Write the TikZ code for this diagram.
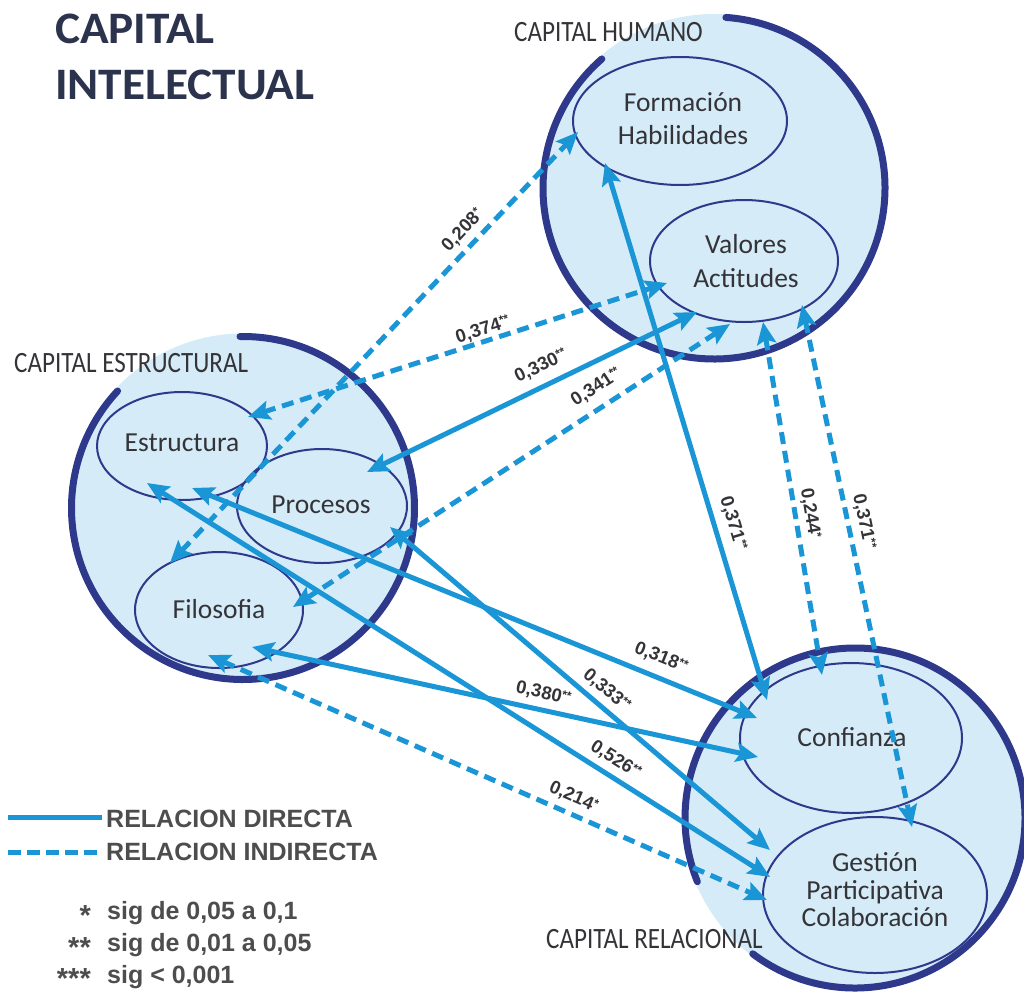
\documentclass[tikz,border=0pt]{standalone}
\usepackage{fontspec}
\usepackage{graphicx}
\setmainfont{Carlito}
\newfontfamily\arialfont{Liberation Sans}
\usetikzlibrary{arrows.meta,shapes.geometric}

\definecolor{linkblue}{RGB}{26,150,214}
\definecolor{capfill}{RGB}{213,235,247}
\definecolor{navy}{RGB}{46,57,140}
\definecolor{inktext}{RGB}{52,52,56}
\definecolor{titleink}{RGB}{44,51,76}
\definecolor{legendink}{RGB}{77,77,77}

% coefficient with its significance stars
\newcommand\coefval[2]{#1\raisebox{4.5pt}{\fontsize{12}{12}\selectfont #2}}

\tikzset{
  capzone/.style={circle, fill=capfill, draw=none, inner sep=0pt},
  caparc/.style={draw=navy, line width=7pt, line cap=round},
  subzone/.style={ellipse, draw=navy, line width=2pt, inner sep=0pt},
  subtext/.style={text=inktext, align=center, inner sep=0pt},
  zonename/.style={font=\fontsize{29.5}{30}\selectfont, text=inktext, inner sep=0pt, anchor=base west},
  link/.style={draw=linkblue, line width=5pt, >={Stealth[length=22pt,width=19pt,inset=4pt]}, <->},
  indirect/.style={link, dash pattern=on 12pt off 7pt},
  coef/.style={font=\arialfont\bfseries\fontsize{18.5}{18.5}\selectfont, text=inktext, sloped, inner sep=1pt},
  legtext/.style={font=\arialfont\bfseries\fontsize{25}{25}\selectfont, text=legendink, inner sep=0pt, anchor=base west},
  legstar/.style={font=\arialfont\bfseries\fontsize{29}{29}\selectfont, text=legendink, inner sep=0pt, anchor=base east},
}

\begin{document}
\begin{tikzpicture}[x=1pt, y=-1pt]
\useasboundingbox (0,0) rectangle (1024,993);

% the three capital zones
\node[capzone, minimum size=348pt] (hum) at (714,188) {};
\node[capzone, minimum size=349pt] (estr) at (243,508) {};
\node[capzone, minimum size=344pt] (rel) at (855,818) {};

\draw[caparc] ([shift={(-86:171)}]hum.center) arc[start angle=-86, end angle=229, radius=171];
\draw[caparc] ([shift={(-91:171.5)}]estr.center) arc[start angle=-91, end angle=223, radius=171.5];
\draw[caparc] ([shift={(127:170)}]rel.center) arc[start angle=127, end angle=-202, radius=170];

% components of each zone
\node[subzone, minimum width=214pt, minimum height=128pt] (form) at (680,121) {};
\node[subzone, minimum width=188pt, minimum height=122pt] (val) at (744,261) {};
\node[subzone, minimum width=170pt, minimum height=108pt] (est) at (182,446) {};
\node[subzone, minimum width=170pt, minimum height=114pt] (proc) at (322,506) {};
\node[subzone, minimum width=168pt, minimum height=116pt] (fil) at (219,610) {};
\node[subzone, minimum width=222pt, minimum height=150pt] (conf) at (851,738) {};
\node[subzone, minimum width=224pt, minimum height=156pt] (gest) at (875,895) {};

\node[subtext, font=\fontsize{27.5}{33}\selectfont] (formT) at (683,119) {Formación\\Habilidades};
\node[subtext, font=\fontsize{27.5}{34}\selectfont] (valT) at (746,261) {Valores\\Actitudes};
\node[subtext, font=\fontsize{27.5}{33}\selectfont] (estT) at (182,443) {Estructura};
\node[subtext, font=\fontsize{27.5}{33}\selectfont] (procT) at (321,505) {Procesos};
\node[subtext, font=\fontsize{27.5}{33}\selectfont] (filT) at (219,609) {Filosofia};
\node[subtext, font=\fontsize{27.5}{33}\selectfont] (confT) at (852,737) {Confianza};
\node[subtext, font=\fontsize{27.5}{27.5}\selectfont] (gestT) at (875,890) {Gestión\\Participativa\\Colaboración};

% titles
\node[anchor=north west, inner sep=0pt, align=left, text=titleink,
      font=\bfseries\fontsize{45}{56}\selectfont] (title) at (55,14) {\scalebox{1.05}[1]{CAPITAL}\\\scalebox{1.05}[1]{INTELECTUAL}};
\node[zonename] (humN) at (514,41) {\scalebox{0.85}[1]{CAPITAL HUMANO}};
\node[zonename] (estrN) at (14,372) {\scalebox{0.85}[1]{CAPITAL ESTRUCTURAL}};
\node[zonename] (relN) at (546,948) {\scalebox{0.85}[1]{CAPITAL RELACIONAL}};

% relations between components
\draw[indirect] ([shift={(-49,-47)}]fil.center) -- node[coef, pos=0.746, above=4.5pt] {\coefval{0,208}{*}} ([shift={(-102,11)}]form.center);
\draw[indirect] ([shift={(66,-29)}]est.center) -- node[coef, pos=0.569, above=0pt] {\coefval{0,374}{**}} ([shift={(-77,22)}]val.center);
\draw[link] ([shift={(45,-34)}]proc.center) -- node[coef, pos=0.553, above=8pt] {\coefval{0,330}{**}} ([shift={(-47,51)}]val.center);
\draw[indirect] ([shift={(74,-3)}]fil.center) -- node[coef, pos=0.718, above=8pt] {\coefval{0,341}{**}} ([shift={(-14,63)}]val.center);
\draw[link] ([shift={(-75,42)}]form.center) -- node[coef, pos=0.681, above=7pt] {\coefval{0,371}{**}} ([shift={(-84,-38)}]conf.center);
\draw[indirect] ([shift={(19,61)}]val.center) -- node[coef, pos=0.549, above=3.5pt] {\coefval{0,244}{*}} ([shift={(-29,-63)}]conf.center);
\draw[indirect] ([shift={(58,44)}]val.center) -- node[coef, pos=0.421, above=4.5pt] {\coefval{0,371}{**}} ([shift={(37,-68)}]gest.center);
\draw[link] ([shift={(10,42)}]est.center) -- node[coef, pos=0.817, above=8pt] {\coefval{0,318}{**}} ([shift={(-94,-20)}]conf.center);
\draw[link] ([shift={(68,21)}]proc.center) -- node[coef, pos=0.543, above=4.5pt] {\coefval{0,333}{**}} ([shift={(-105,-45)}]gest.center);
\draw[link] ([shift={(33,37)}]fil.center) -- node[coef, pos=0.569, above=5pt] {\coefval{0,380}{**}} ([shift={(-93,19)}]conf.center);
\draw[link] ([shift={(-35,37)}]est.center) -- node[coef, pos=0.738, above=5pt] {\coefval{0,526}{**}} ([shift={(-105,-18)}]gest.center);
\draw[indirect] ([shift={(-11,45)}]fil.center) -- node[coef, pos=0.642, above=5pt] {\coefval{0,214}{*}} ([shift={(-108,5)}]gest.center);

% legend
\coordinate (solidA) at (8,817);
\coordinate (solidB) at (102,817);
\coordinate (dashA) at (8,852);
\coordinate (dashB) at (102,852);
\draw[draw=linkblue, line width=5pt] (solidA) -- (solidB);
\draw[draw=linkblue, line width=5pt, dash pattern=on 13pt off 6pt] (dashA) -- (dashB);
\node[legtext] (legDir) at (106,827) {RELACION DIRECTA};
\node[legtext] (legInd) at (106,860) {RELACION INDIRECTA};

\node[legstar] (star1) at (91,925) {*};
\node[legstar] (star2) at (91,957) {**};
\node[legstar] (star3) at (91,988) {***};
\node[legtext] (sig1) at (107,919) {sig de 0,05 a 0,1};
\node[legtext] (sig2) at (107,951) {sig de 0,01 a 0,05};
\node[legtext] (sig3) at (107,983) {sig < 0,001};
\end{tikzpicture}
\end{document}
